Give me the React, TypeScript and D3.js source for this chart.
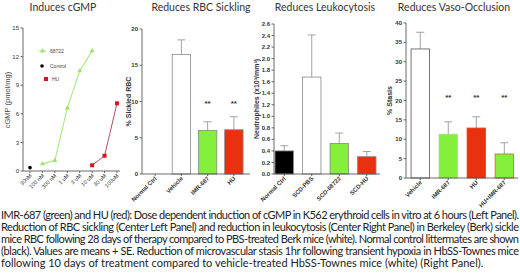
import React from "react";
import * as d3 from "d3";

const doses = ["30nM", "100 nM", "300 nM", "1 uM", "3 uM", "10 uM", "30 uM", "100uM"];
const cgmpGreen = [
  { dose: "100 nM", v: 0.75 },
  { dose: "300 nM", v: 1.1 },
  { dose: "1 uM", v: 6.6 },
  { dose: "3 uM", v: 10.5 },
  { dose: "10 uM", v: 12.6 },
];
const cgmpControl = [{ dose: "30nM", v: 0.35 }];
const cgmpHU = [
  { dose: "10 uM", v: 0.6 },
  { dose: "30 uM", v: 1.6 },
  { dose: "100uM", v: 7.1 },
];
const cgmpTicks = [0, 3, 6, 9, 12, 15];

const sickCats = ["Normal Ctrl", "Vehicle", "IMR-687", "HU"];
const sickVals = [0, 16.5, 6.0, 6.1];
const sickErr = [0, 2.0, 1.2, 1.8];
const sickStars = [false, false, true, true];
const sickTicks = [0, 5, 10, 15, 20];

const leukCats = ["Normal Ctrl", "SCD-PBS", "SCD-68722", "SCD-HU"];
const leukVals = [0.4, 1.68, 0.53, 0.3];
const leukErr = [0.09, 0.73, 0.18, 0.09];
const leukTicks = [0, 0.2, 0.4, 0.6, 0.8, 1.0, 1.2, 1.4, 1.6, 1.8, 2.0, 2.2, 2.4, 2.6];

const vasoCats = ["Vehicle", "IMR-687", "HU", "HU+IMR-687"];
const vasoVals = [33.3, 11.3, 12.9, 6.2];
const vasoErr = [4.3, 3.2, 2.9, 2.9];
const vasoStars = [false, true, true, true];
const vasoTicks = [0, 5, 10, 15, 20, 25, 30, 35, 40];

const captionLines = [
  "IMR-687 (green) and HU (red):  Dose dependent induction of cGMP in K562 erythroid cells in vitro at 6 hours (Left Panel).",
  "Reduction of RBC sickling (Center Left Panel) and reduction in leukocytosis (Center Right Panel) in Berkeley (Berk) sickle",
  "mice RBC following 28 days of therapy compared to PBS-treated Berk mice (white). Normal control littermates are shown",
  "(black). Values are means + SE. Reduction of microvascular stasis 1hr following transient hypoxia in HbSS-Townes mice",
  "following 10 days of treatment compared to vehicle-treated HbSS-Townes mice (white) (Right Panel).",
];

const WHITE = "#ffffff";
const GREEN = "#84f03c";
const RED = "#e8320f";
const BLACK = "#000000";
const sickColors = [WHITE, WHITE, GREEN, RED];
const leukColors = [BLACK, WHITE, GREEN, RED];
const vasoColors = [WHITE, GREEN, RED, GREEN];
const vasoStroke = ["#555", "#a8d890", "#d05020", "#c07020"];

const FONT = "Lato, 'Open Sans', sans-serif";
const AXC = "#444";

function YAxis({ x, y, ticks, fmt, bold }: any) {
  return (
    <g>
      <line x1={x} x2={x} y1={y.range()[0]} y2={y.range()[1]} stroke={AXC} strokeWidth={0.8} />
      {ticks.map((t: number) => (
        <g key={t}>
          <line x1={x - 2.5} x2={x} y1={y(t)} y2={y(t)} stroke={AXC} strokeWidth={0.8} />
          <text x={x - 4} y={y(t)} dy="0.35em" textAnchor="end" fontSize={6} fontWeight={bold ? 700 : 400} fill="#333" fontFamily="Arial, Liberation Sans, sans-serif">
            {fmt(t)}
          </text>
        </g>
      ))}
    </g>
  );
}

function XLabels({ cats, xc, y0, size }: any) {
  return (
    <g>
      {cats.map((c: string) => (
        <text key={c} transform={`translate(${xc(c) + 2},${y0 + 5}) rotate(-45)`} textAnchor="end" fontSize={size} fontWeight={700} fill="#333" fontFamily="Arial, Liberation Sans, sans-serif">
          {c}
        </text>
      ))}
    </g>
  );
}

function BarPanel({ cats, vals, errs, colors, strokes, stars, starY, xRange, axisEnd, pi, po, yTop, yBot, domainMax, ticks, fmt, title, titleX, ylabel, ylabelX }: any) {
  const x = d3.scaleBand<string>().domain(cats).range(xRange).paddingInner(pi).paddingOuter(po);
  const y = d3.scaleLinear().domain([0, domainMax]).range([yBot, yTop]);
  const xc = (c: string) => (x(c) as number) + x.bandwidth() / 2;
  const axX = xRange[0];
  return (
    <g>
      <text x={titleX} y={10.5} textAnchor="middle" fontSize={10.5} fill="#333" fontFamily={FONT}>{title}</text>
      {cats.map((c: string, i: number) => {
        const v = vals[i];
        if (v <= 0) return null;
        const top = y(v + errs[i]);
        return (
          <g key={c}>
            <line x1={xc(c)} x2={xc(c)} y1={y(v)} y2={top} stroke="#999" strokeWidth={0.9} />
            <line x1={xc(c) - 4} x2={xc(c) + 4} y1={top} y2={top} stroke="#999" strokeWidth={0.9} />
            <rect x={x(c)} y={y(v)} width={x.bandwidth()} height={yBot - y(v)} fill={colors[i]} stroke={strokes ? strokes[i] : "#888"} strokeWidth={0.8} />
          </g>
        );
      })}
      {stars &&
        cats.map((c: string, i: number) =>
          stars[i] ? (
            <text key={c} x={xc(c)} y={starY} textAnchor="middle" fontSize={8} fontWeight={700} fill="#333" fontFamily="Arial, sans-serif">**</text>
          ) : null
        )}
      <line x1={axX} x2={axisEnd} y1={yBot} y2={yBot} stroke={AXC} strokeWidth={0.8} />
      {cats.map((c: string) => (
        <line key={c} x1={xc(c)} x2={xc(c)} y1={yBot} y2={yBot + 2} stroke={AXC} strokeWidth={0.8} />
      ))}
      <YAxis x={axX} y={y} ticks={ticks} fmt={fmt} bold />
      <XLabels cats={cats} xc={xc} y0={yBot} size={6} />
      <text transform={`translate(${ylabelX},${(yTop + yBot) / 2}) rotate(-90)`} textAnchor="middle" fontSize={7} fontWeight={700} fill="#333" fontFamily="Arial, sans-serif">{ylabel}</text>
    </g>
  );
}

function LinePanel() {
  const x = d3.scalePoint<string>().domain(doses).range([30, 117]);
  const y = d3.scaleLinear().domain([0, 15]).range([171, 28]);
  const line = d3.line<any>().x((d) => x(d.dose) as number).y((d) => y(d.v));
  const tri = d3.symbol().type(d3.symbolTriangle).size(10)();
  return (
    <g>
      <text x={63} y={10.5} textAnchor="middle" fontSize={10.5} fill="#333" fontFamily={FONT}>Induces cGMP</text>
      <path d={line(cgmpGreen) as string} fill="none" stroke="#a6e97a" strokeWidth={1.1} />
      {cgmpGreen.map((d) => (
        <path key={d.dose} d={tri as string} transform={`translate(${x(d.dose)},${y(d.v)})`} fill="#9be070" />
      ))}
      <path d={line(cgmpHU) as string} fill="none" stroke="#b05060" strokeWidth={1} />
      {cgmpHU.map((d) => (
        <rect key={d.dose} x={(x(d.dose) as number) - 2} y={y(d.v) - 2} width={4} height={4} fill="#d8141e" />
      ))}
      {cgmpControl.map((d) => (
        <circle key={d.dose} cx={x(d.dose)} cy={y(d.v)} r={1.8} fill="#000" />
      ))}
      <line x1={23} x2={120} y1={171} y2={171} stroke={AXC} strokeWidth={0.8} />
      {doses.map((c) => (
        <line key={c} x1={x(c)} x2={x(c)} y1={171} y2={173} stroke={AXC} strokeWidth={0.8} />
      ))}
      <YAxis x={23} y={y} ticks={cgmpTicks} fmt={(t: number) => String(t)} bold={false} />
      {doses.map((c) => (
        <text key={c} transform={`translate(${(x(c) as number) + 2},${176}) rotate(-45)`} textAnchor="end" fontSize={5.5} fill="#333" fontFamily="Arial, sans-serif">{c}</text>
      ))}
      <text transform={`translate(10,100) rotate(-90)`} textAnchor="middle" fontSize={7.5} fill="#444" fontFamily="Arial, sans-serif">cGMP (pmol/mg)</text>
      <line x1={39} x2={46} y1={51} y2={51} stroke="#a6e97a" strokeWidth={1} />
      <path d={tri as string} transform="translate(42.5,51)" fill="#9be070" />
      <text x={50} y={51} dy="0.35em" fontSize={5} fill="#444" fontFamily="Arial, sans-serif">68722</text>
      <circle cx={42} cy={66} r={1.8} fill="#000" />
      <text x={50} y={66} dy="0.35em" fontSize={5} fill="#444" fontFamily="Arial, sans-serif">Control</text>
      <rect x={44} y={77} width={4} height={4} fill="#d8141e" />
      <text x={52} y={79} dy="0.35em" fontSize={5} fill="#444" fontFamily="Arial, sans-serif">HU</text>
    </g>
  );
}

export default function App() {
  return (
    <svg width={520} height={273} style={{ position: "absolute", left: 0, top: 0, background: "#fff" }}>
      <rect width={520} height={273} fill="#fff" />
      <LinePanel />
      <BarPanel cats={sickCats} vals={sickVals} errs={sickErr} colors={sickColors} stars={sickStars} starY={106}
        xRange={[142, 247]} axisEnd={250} pi={0.3} po={0.15} yTop={29} yBot={174} domainMax={20} ticks={sickTicks}
        fmt={(t: number) => String(t)} title="Reduces RBC Sickling" titleX={201} ylabel="% Sickled RBC" ylabelX={131} />
      <BarPanel cats={leukCats} vals={leukVals} errs={leukErr} colors={leukColors} stars={null} starY={0}
        xRange={[274, 377]} axisEnd={380} pi={0.33} po={0.036} yTop={24} yBot={174} domainMax={2.6} ticks={leukTicks}
        fmt={(t: number) => t.toFixed(1)} title="Reduces Leukocytosis" titleX={325} ylabel="Neutrophiles (x10³/mm³)" ylabelX={259} />
      <BarPanel cats={vasoCats} vals={vasoVals} errs={vasoErr} colors={vasoColors} strokes={vasoStroke} stars={vasoStars} starY={100}
        xRange={[406, 518.6]} axisEnd={518} pi={0.34} po={0.18} yTop={23} yBot={178} domainMax={40} ticks={vasoTicks}
        fmt={(t: number) => String(t)} title="Reduces Vaso-Occlusion" titleX={454} ylabel="% Stasis" ylabelX={392} />
      {captionLines.map((l, i) => (
        <text key={i} x={1} y={219 + i * 12} fontSize={11} fill="#222" fontFamily={FONT}
          {...(i < 4 ? { textLength: 518, lengthAdjust: "spacing" } : {})}>
          {l}
        </text>
      ))}
    </svg>
  );
}
